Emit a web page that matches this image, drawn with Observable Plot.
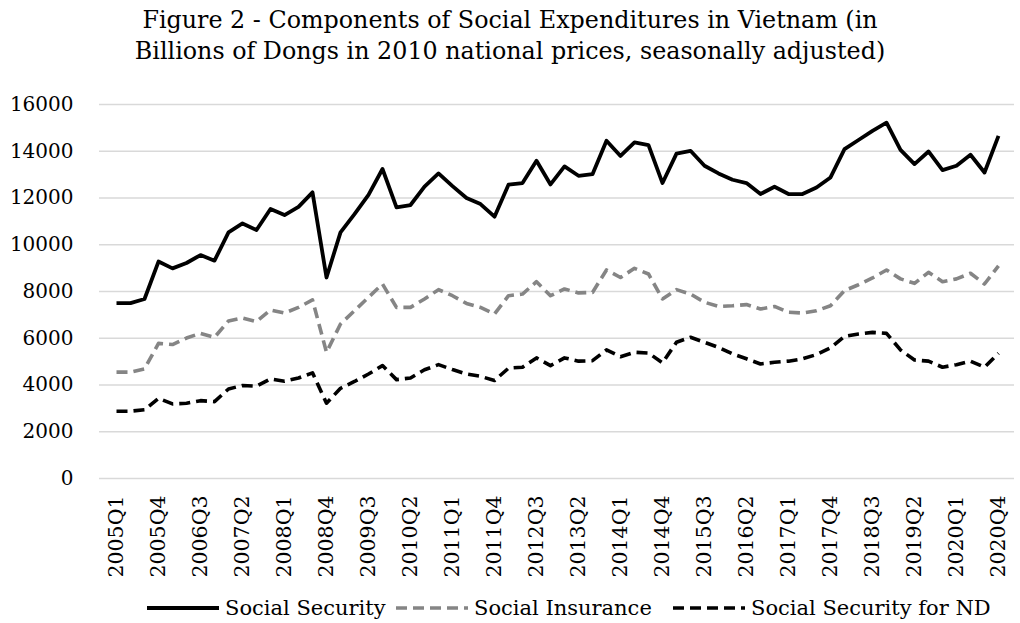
<!DOCTYPE html>
<html>
<head>
<meta charset="utf-8">
<script src="https://cdn.jsdelivr.net/npm/d3@7"></script>
<script src="https://cdn.jsdelivr.net/npm/@observablehq/plot@0.6"></script>
<style>
  html, body { margin: 0; padding: 0; background: #fff; }
  #wrap { position: relative; width: 1020px; height: 623px; font-family: "DejaVu Serif", serif; color: #000; overflow: hidden; }
  #title { position: absolute; top: 5px; left: 0; width: 1020px; text-align: center; font-size: 23.8px; line-height: 31px; }
  #chart { position: absolute; top: 80px; left: 0; }
  #legend { position: absolute; top: 594px; left: 0; width: 1020px; height: 28px; font-size: 21px; }
  .item { position: absolute; top: 0; display: flex; align-items: center; height: 28px; white-space: nowrap; }
  .item svg { margin-right: 6px; }
</style>
</head>
<body>
<div id="wrap">
  <div id="title">Figure 2 - Components of Social Expenditures in Vietnam (in<br>Billions of Dongs in 2010 national prices, seasonally adjusted)</div>
  <div id="chart"></div>
  <div id="legend"></div>
</div>
<script>
const years = [2005,2006,2007,2008,2009,2010,2011,2012,2013,2014,2015,2016,2017,2018,2019,2020];
const quarterNames = ["Q1","Q2","Q3","Q4"];
const quarters = years.flatMap(y => quarterNames.map(q => `${y}${q}`));

const tickLabels = ["2005Q1","2005Q4","2006Q3","2007Q2","2008Q1","2008Q4","2009Q3","2010Q2","2011Q1","2011Q4","2012Q3","2013Q2","2014Q1","2014Q4","2015Q3","2016Q2","2017Q1","2017Q4","2018Q3","2019Q2","2020Q1","2020Q4"];
const yTicks = [0,2000,4000,6000,8000,10000,12000,14000,16000];

const seriesNames = ["Social Security","Social Insurance","Social Security for ND"];

const socialSecurity = [7500,7500,7680,9280,8990,9220,9560,9320,10530,10910,
  10630,11530,11270,11620,12240,8600,10530,11310,12130,13240,
  11600,11700,12490,13050,12510,12000,11740,11200,12570,12640,
  13590,12580,13350,12950,13020,14450,13800,14380,14260,12640,
  13900,14020,13380,13050,12780,12640,12170,12480,12170,12170,
  12450,12880,14090,14480,14870,15220,14060,13450,13990,13190,
  13380,13850,13090,14660];

const socialInsurance = [4550,4550,4690,5780,5730,6010,6210,6040,6740,6870,
  6710,7210,7080,7320,7640,5400,6610,7180,7750,8320,
  7320,7320,7680,8080,7820,7490,7320,7040,7820,7890,
  8420,7820,8110,7940,7960,8920,8600,8990,8750,7680,
  8080,7890,7540,7360,7390,7440,7250,7360,7110,7080,
  7180,7390,8040,8290,8580,8920,8540,8350,8820,8420,
  8540,8780,8320,9100];

const socialSecurityND = [2880,2880,2940,3430,3190,3220,3330,3290,3830,3980,
  3950,4260,4160,4300,4520,3220,3860,4150,4470,4830,
  4230,4300,4650,4870,4660,4470,4370,4190,4720,4760,
  5160,4830,5160,5020,5040,5500,5210,5400,5370,4950,
  5830,6040,5830,5610,5330,5120,4900,4970,5020,5120,
  5300,5590,6080,6180,6250,6210,5500,5070,5020,4760,
  4870,5020,4760,5360];

const styles = [
  {stroke: "#000000", dash: null, width: 3.8},
  {stroke: "#858585", dash: "11,6", width: 3.6},
  {stroke: "#000000", dash: "11,6", width: 3.6}
];

const allSeries = [socialSecurity, socialInsurance, socialSecurityND];
const tidy = allSeries.map((vals, s) => vals.map((v, i) => ({quarter: quarters[i], value: v, series: seriesNames[s]})));

const marks = [
  Plot.gridY(yTicks, {stroke: "#d9d9d9", strokeOpacity: 1, strokeWidth: 1.6}),
  Plot.axisY(yTicks, {tickSize: 0, tickPadding: 26, fontSize: 20, tickFormat: d => String(d)}),
  Plot.axisX(tickLabels, {tickSize: 0, tickPadding: 17, tickRotate: -90, fontSize: 20.5})
];
tidy.forEach((data, s) => {
  marks.push(Plot.line(data, {
    x: "quarter", y: "value",
    stroke: styles[s].stroke,
    strokeWidth: styles[s].width,
    strokeDasharray: styles[s].dash,
    strokeLinejoin: "round",
    strokeLinecap: "butt"
  }));
});

const chart = Plot.plot({
  width: 1020,
  height: 505,
  marginLeft: 99,
  marginRight: 6,
  marginTop: 24,
  marginBottom: 107,
  style: {fontFamily: "DejaVu Serif", fontSize: "20px", color: "#000", background: "transparent"},
  x: {type: "point", domain: quarters, padding: 0.5, label: null},
  y: {domain: [0, 16000], label: null},
  marks
});
document.getElementById("chart").appendChild(chart);

// legend
const legendX = [147, 396, 673];
const legend = document.getElementById("legend");
seriesNames.forEach((name, s) => {
  const item = document.createElement("div");
  item.className = "item";
  item.style.left = legendX[s] + "px";
  const st = styles[s];
  item.innerHTML = `<svg width="72" height="10"><line x1="0" y1="5" x2="72" y2="5" stroke="${st.stroke}" stroke-width="${st.width}" ${st.dash ? `stroke-dasharray="${st.dash}"` : ""}/></svg><span>${name}</span>`;
  legend.appendChild(item);
});
</script>
</body>
</html>
